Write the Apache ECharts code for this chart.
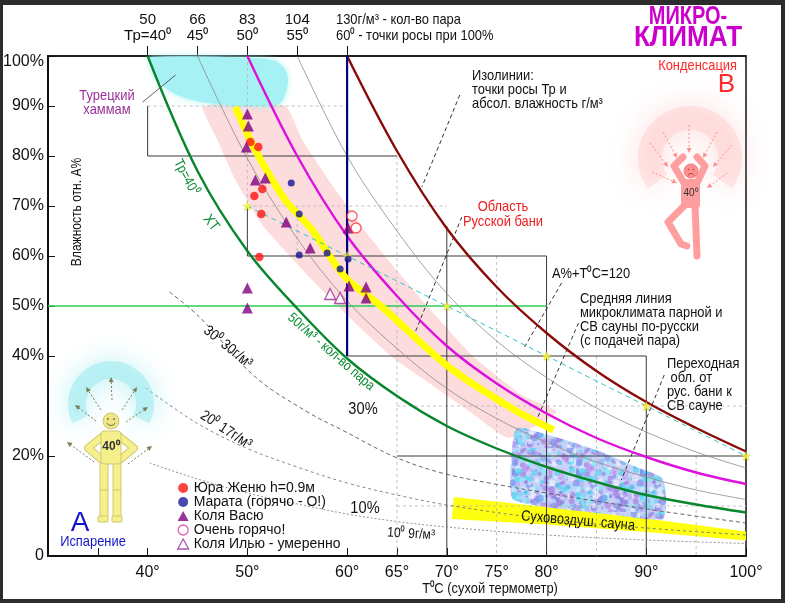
<!DOCTYPE html>
<html><head><meta charset="utf-8">
<script src="https://cdn.jsdelivr.net/npm/echarts@6/dist/echarts.min.js"></script>
<style>html,body{margin:0;padding:0;background:#fff}#c{width:785px;height:603px}</style>
</head><body><div id="c"></div>
<script>
const FONT = "'Liberation Sans Narrow','Arial Narrow','Liberation Sans',Arial,sans-serif";

// ---------- axes ----------
const xLabelValues = [40, 50, 60, 65, 70, 75, 80, 90, 100];
const xTickValues = [35, 40, 50, 60, 65, 70, 80, 90, 100];
const yLabelValues = [0, 20, 40, 50, 60, 70, 80, 90, 100];
const topTickValues = [40, 45, 50, 55, 60];
const topLabelValues = [40, 45, 50, 55];
const topAbsHum = ['50', '66', '83', '104'];
const topDewPt = ['Тр=40⁰', '45⁰', '50⁰', '55⁰'];

// ---------- isolines (T °C, RH %) ----------
const isoTp40 = [[40,100],[45,77],[50,61],[55,49.5],[60,39.5],[65,32],[70,26],[75,21.5],[80,17.8],[85,14.8],[90,12.2],[95,10.3],[100,8.7]];
const isoTp45 = [[45,100],[50,79.5],[55,63.5],[60,51],[65,41.5],[70,33.5],[75,27.5],[80,22.7],[85,18.8],[90,15.8],[95,13.2],[100,11.3]];
const isoTp50 = [[50,100],[55,80],[60,64],[65,52],[70,42],[75,34.5],[80,28.5],[85,23.6],[90,19.8],[95,16.7],[100,14.4]];
const isoTp55 = [[55,100],[60,80],[65,65],[70,52.5],[75,43],[80,35.7],[85,29.6],[90,24.8],[95,20.8],[100,17.6]];
const isoTp60 = [[60,100],[65,81],[70,65.5],[75,53.8],[80,44.6],[85,37],[90,30.8],[95,25.6],[100,20.9]];
const isoTp30 = [[42.2,52.8],[45.2,47.8],[50.8,35.8],[56.2,28.6],[59.5,25.2],[64.8,19.8],[69.5,16.6],[74.8,14.4],[80,12.6],[90,9.4],[100,6.6]];
const isoTp20 = [[39.8,33.6],[45,26.5],[50,21.5],[55,17.8],[60,14.6],[65,12.2],[70,10.2],[80,7.4],[90,5.6],[100,4.2]];
const isoTp10 = [[40.2,18.6],[45,15.4],[50,12.6],[55,10.4],[60,8.4],[65,6.9],[70,5.8],[80,4.2],[90,3.2],[100,2.5]];

const meanLine = [[48.8,89.8],[50.8,81.2],[53.8,71.2],[56.5,65.2],[59.8,55.8],[63.5,49.8],[70.2,37.8],[76.8,29.2],[80.7,25.2]];
const sumLine = [[50,70],[100,20]];              // A% + T°C = 120
const sumStars = [[50,70],[60,60],[70,50],[80,40],[90,30],[100,20]];
const green50 = [[30,50],[80,50]];
const navy60 = [[60,100],[60,40]];

// ---------- regions ----------
const russianBand = [[45.5,89.6],[47,83.2],[48.8,75.2],[51.5,66.2],[56.5,55.2],[60.5,47.2],[64.5,39.8],[67.8,35.2],[72.5,28.6],[76.2,23.6],
  [81,28.8],[77.5,32.2],[72.5,40.2],[67.5,51.2],[62.5,63.2],[58.5,74.2],[55.5,83.2],[53.8,90],[46.5,90.4]];
const hammamBlob = [[40.2,99.8],[50.5,99.6],[53,98.8],[54,96.2],[53.9,93.2],[53.3,90.6],[51.5,90],[46.8,90.4],[43,92.2],[41,95.2],[40.2,98.8]];
const drySaunaBand = [[70.7,11.8],[80,9.8],[90,7.5],[100,4.9],[100,3.1],[90,4.8],[80,6.3],[70.5,7.4]];
const transitionBlob = [[77,25.5],[80,24.3],[85,21.2],[89,17.8],[91.6,15.6],[92,10.5],[91.6,7.3],[86,8.4],[80,9.8],[76.6,11.4],[76.4,18]];

// ---------- straight segments [x1,y1,x2,y2] ----------
const stairSegs = [[40,90,40,80],[40,80,65,80],[50,70,50,60],[50,60,80,60],[60,40,90,40],[65,20,100,20],[70,66,70,0],[80,60,80,0],[90,40,90,0]];
const dashGridSegs = [[40,90,60,90],[50,100,50,70],[50,70,70,70],[55,70,55,60],[65,80,65,0],[75,60,75,0],[85,40,85,0],[95,20,95,0],[65,30,100,30],[65,10,100,10]];
const leaderSegs = [[71.3,92.2,67.5,73.8],[71.5,67.8,66.8,44.6],[81.5,54.6,77.8,41.8],[83.2,46.6,79,27.2],[91.8,36.2,87.5,15.2]];
const hammamLeader = [[39.5,90.8,42.8,96.2]];

// ---------- measurements ----------
const yuraPts = [[50.3,82.8],[51.1,81.8],[50.7,72],[51.5,73.4],[51.4,68.4],[51.2,59.8]];
const marataPts = [[54.4,74.6],[55.2,68.4],[55.2,60.2],[58,60.6],[60.1,59.4],[59.3,57.4]];
const kolyaVasyuPts = [[50,88.4],[50.1,86],[49.9,81.8],[50.8,75.2],[51.8,75.6],[53.9,66.8],[56.3,61.6],[60.1,65.6],[50,53.6],[50,49.6],[60.2,54],[61.9,53.8],[61.9,51.6]];
const veryHotPts = [[60.5,68],[60.9,65.6]];
const kolyaIlyuPts = [[58.3,52.4],[59.3,51.6]];

const legendNames = ['Юра Женю h=0.9м','Марата (горячо - О!)','Коля Васю','Очень горячо!','Коля Илью - умеренно'];

// texture for the transition region (deterministic hash, purely decorative)
function hash(n){ const v = Math.sin(n * 12.9898 + 78.233) * 43758.5453; return v - Math.floor(v); }
function makeTexture(){
  const c = document.createElement('canvas'); c.width = 64; c.height = 64;
  const g = c.getContext('2d');
  g.fillStyle = 'rgba(165,185,245,0.7)'; g.fillRect(0,0,64,64);
  const cols = ['rgba(60,215,240,0.7)','rgba(150,90,215,0.55)','rgba(95,130,235,0.6)','rgba(190,150,240,0.55)','rgba(110,235,245,0.65)','rgba(240,245,255,0.6)','rgba(170,110,225,0.55)'];
  for (let i = 0; i < 260; i++) {
    const x = hash(i * 3 + 1) * 64, y = hash(i * 3 + 2) * 64, r = 1 + hash(i * 3 + 3) * 2.6;
    g.fillStyle = cols[i % 7]; g.beginPath(); g.arc(x, y, r, 0, Math.PI * 2); g.fill();
  }
  return c;
}

function polySeries(pts, style, z, smooth){
  return {type:'custom', coordinateSystem:'cartesian2d', silent:true, z, clip:false, data:[pts[0]],
    renderItem:(params, api) => ({type:'polygon', shape:{points: pts.map(p => api.coord(p)), smooth: smooth || 0}, style})};
}
function segSeries(segs, style, z){
  return {type:'custom', coordinateSystem:'cartesian2d', silent:true, z, clip:false, data:segs, encode:{x:[0,2], y:[1,3]},
    renderItem:(params, api) => {
      const a = api.coord([api.value(0), api.value(1)]), b = api.coord([api.value(2), api.value(3)]);
      return {type:'line', shape:{x1:a[0], y1:a[1], x2:b[0], y2:b[1]}, style:Object.assign({}, style)};
    }};
}
function curve(data, color, width, z, dash, smooth){
  return {type:'line', data, symbol:'none', silent:true, z, smooth: smooth === undefined ? 0.35 : smooth,
    lineStyle:{color, width, type: dash || 'solid'}};
}

// ---------- decorative figures ----------
function arrowEls(x1,y1,x2,y2,color){
  const a = Math.atan2(y2-y1, x2-x1), L = 5, W = 2.4;
  const bx = x2 - L*Math.cos(a), by = y2 - L*Math.sin(a);
  const px = -Math.sin(a)*W, py = Math.cos(a)*W;
  return [{type:'line', z:50, silent:true, shape:{x1, y1, x2:bx, y2:by}, style:{stroke:color, lineWidth:1, lineDash:[2,2]}},
          {type:'polygon', z:50, silent:true, shape:{points:[[x2,y2],[bx+px,by+py],[bx-px,by-py]]}, style:{fill:color}}];
}
function txt(text, x, y, o){
  o = o || {};
  return {type:'text', x, y, z:100, silent:true, rotation:(o.rot||0)*Math.PI/180,
    scaleX: o.sx !== undefined ? o.sx : (o.family ? 1 : 0.86),
    style:{text, fill:o.color||'#111', fontSize:o.size||15, fontFamily:o.family||FONT, fontWeight:o.weight||'normal',
      align:o.align||'left', verticalAlign:o.va||'top', lineHeight:o.lh}};
}
const graphics = [];
// yellow (evaporation) figure
graphics.push({type:'arc', z:40, silent:true, shape:{cx:111, cy:404, r:34, startAngle:Math.PI*0.85, endAngle:Math.PI*2.15, clockwise:true},
  style:{fill:null, stroke:'rgba(130,230,235,0.42)', lineWidth:18, shadowBlur:26, shadowColor:'rgba(100,222,228,1)'}});
[[112,400,111,377],[101,410,86,387],[96,421,75,405],[122,410,137,387],[126,422,148,407],[94,462,67,442],[128,464,152,446]]
  .forEach(a => graphics.push(...arrowEls(a[0],a[1],a[2],a[3],'#7d7d55')));
const YF = '#f6f08c', YS = '#cfc670';
[[[103,436],[88,448],[101,459]],[[119,436],[134,448],[121,459]]].forEach(p => {
  graphics.push({type:'polyline', z:51, silent:true, shape:{points:p}, style:{stroke:YS, lineWidth:8, fill:null, lineCap:'round', lineJoin:'round'}});
  graphics.push({type:'polyline', z:52, silent:true, shape:{points:p}, style:{stroke:YF, lineWidth:6, fill:null, lineCap:'round', lineJoin:'round'}});
});
graphics.push({type:'rect', z:52, silent:true, shape:{x:100, y:462, width:8, height:56, r:2}, style:{fill:YF, stroke:YS}});
graphics.push({type:'rect', z:52, silent:true, shape:{x:113, y:462, width:8, height:56, r:2}, style:{fill:YF, stroke:YS}});
graphics.push({type:'rect', z:52, silent:true, shape:{x:98, y:516, width:10, height:6, r:1}, style:{fill:YF, stroke:YS}});
graphics.push({type:'rect', z:52, silent:true, shape:{x:112, y:516, width:10, height:6, r:1}, style:{fill:YF, stroke:YS}});
graphics.push({type:'line', z:53, silent:true, shape:{x1:100, y1:490, x2:108, y2:490}, style:{stroke:YS}});
graphics.push({type:'line', z:53, silent:true, shape:{x1:113, y1:490, x2:121, y2:490}, style:{stroke:YS}});
graphics.push({type:'rect', z:53, silent:true, shape:{x:101, y:431, width:20, height:33, r:3}, style:{fill:YF, stroke:YS}});
graphics.push({type:'circle', z:53, silent:true, shape:{cx:111, cy:421, r:8}, style:{fill:'#ece58a', stroke:YS}});
graphics.push({type:'circle', z:54, silent:true, shape:{cx:108, cy:419, r:0.9}, style:{fill:'#6e6a3c'}});
graphics.push({type:'circle', z:54, silent:true, shape:{cx:114, cy:419, r:0.9}, style:{fill:'#6e6a3c'}});
graphics.push({type:'arc', z:54, silent:true, shape:{cx:111, cy:421, r:4.5, startAngle:Math.PI*0.15, endAngle:Math.PI*0.85, clockwise:true}, style:{stroke:'#6e6a3c', fill:null, lineWidth:1}});
graphics.push(txt('40⁰', 111, 447, {size:12, weight:'bold', align:'center', va:'middle', color:'#333', family:'Liberation Sans, sans-serif'}));

// pink (condensation) figure
graphics.push({type:'arc', z:40, silent:true, shape:{cx:690, cy:158, r:40, startAngle:Math.PI*0.8, endAngle:Math.PI*2.2, clockwise:true},
  style:{fill:null, stroke:'rgba(255,185,185,0.3)', lineWidth:24, shadowBlur:30, shadowColor:'rgba(255,150,150,1)'}});
[[650,143,668,167],[663,132,677,158],[689,125,689,153],[717,132,703,158],[732,145,713,167],[652,172,677,183],[727,173,707,188]]
  .forEach(a => graphics.push(...arrowEls(a[0],a[1],a[2],a[3],'#ff8f8f')));
const PF = '#ff9e9e';
[[[684,183],[674,166],[683,157]],[[697,183],[705,166],[697,157]],[[685,205],[668,222],[681,244],[687,246]],[[695,205],[697,256]]].forEach(p => {
  graphics.push({type:'polyline', z:52, silent:true, shape:{points:p}, style:{stroke:PF, lineWidth:7, fill:null, lineCap:'round', lineJoin:'round'}});
});
graphics.push({type:'rect', z:53, silent:true, shape:{x:681, y:179, width:19, height:29, r:3}, style:{fill:PF}});
graphics.push({type:'circle', z:53, silent:true, shape:{cx:691, cy:171, r:7}, style:{fill:'#ff9090', stroke:'#f07a7a'}});
graphics.push({type:'circle', z:54, silent:true, shape:{cx:688.5, cy:169.5, r:0.8}, style:{fill:'#b04040'}});
graphics.push({type:'circle', z:54, silent:true, shape:{cx:693.5, cy:169.5, r:0.8}, style:{fill:'#b04040'}});
graphics.push({type:'arc', z:54, silent:true, shape:{cx:691, cy:177, r:3.5, startAngle:Math.PI*1.15, endAngle:Math.PI*1.85, clockwise:true}, style:{stroke:'#b04040', fill:null, lineWidth:1}});
graphics.push(txt('40⁰', 691, 193, {size:10, align:'center', va:'middle', color:'#333', family:'Liberation Sans, sans-serif'}));

// texts
graphics.push(
  txt('130г/м³ - кол-во пара\n60⁰ - точки росы при 100%', 336, 12, {size:15, lh:16}),
  txt('МИКРО-', 688, 17, {size:25, weight:'bold', color:'#cc00cc', align:'center', va:'middle', sx:0.8}),
  txt('КЛИМАТ', 688, 38, {size:29, weight:'bold', color:'#cc00cc', align:'center', va:'middle', sx:0.9}),
  txt('Конденсация', 737, 66, {size:15, color:'#ff2a2a', align:'right', va:'middle'}),
  txt('B', 735, 85, {size:26, color:'#ff2a2a', align:'right', va:'middle', family:'Liberation Sans, sans-serif'}),
  txt('A', 80, 523, {size:28, color:'#1414c8', align:'center', va:'middle', family:'Liberation Sans, sans-serif'}),
  txt('Испарение', 93, 542, {size:15, color:'#1414c8', align:'center', va:'middle'}),
  txt('Турецкий\nхаммам', 107, 89, {size:15, lh:14, color:'#993399', align:'center'}),
  txt('Влажность отн. А%', 77, 212, {size:14, align:'center', va:'middle', rot:90}),
  txt('Изолинии:\nточки росы Тр и\nабсол. влажность г/м³', 472, 69, {size:15, lh:14}),
  txt('Область\nРусской бани', 503, 200, {size:15, lh:14.5, color:'#ee1c1c', align:'center'}),
  txt('A%+T⁰C=120', 552, 266, {size:15}),
  txt('Средняя линия\nмикроклимата парной и\nСВ сауны по-русски\n(с подачей пара)', 580, 292, {size:15, lh:14}),
  txt('Переходная\n обл. от\nрус. бани к\nСВ сауне', 667, 357, {size:15, lh:14}),
  txt('30%', 363, 409, {size:17, align:'center', va:'middle'}),
  txt('10%', 365, 508, {size:17, align:'center', va:'middle'}),
  txt('Тр=40⁰', 186, 177, {size:14, color:'#0a8a30', align:'center', va:'middle', rot:-62}),
  txt('ХТ', 211, 223, {size:15, color:'#0a8a30', align:'center', va:'middle', rot:-52}),
  txt('50г/м³ - кол-во пара', 331, 352, {size:14, color:'#0a8a30', align:'center', va:'middle', rot:-41}),
  txt('30⁰ 30г/м³', 228, 347, {size:15, align:'center', va:'middle', rot:-39}),
  txt('20⁰ 17г/м³', 226, 430, {size:15, align:'center', va:'middle', rot:-33}),
  txt('10⁰ 9г/м³', 411, 534, {size:14, align:'center', va:'middle', rot:-3}),
  txt('Суховоздуш. сауна', 578, 521, {size:15, align:'center', va:'middle', rot:-5}),
  txt('T⁰C (сухой термометр)', 490, 589, {size:15, align:'center', va:'middle'})
);
// dark outer frame
[[0,0,785,5],[0,0,3,603],[781,0,4,603],[0,599,785,4]].forEach(r =>
  graphics.push({type:'rect', z:200, silent:true, shape:{x:r[0], y:r[1], width:r[2], height:r[3]}, style:{fill:'#2c2c2c'}}));

const starPath = 'path://M50,0 L61,35 L98,35 L68,57 L79,91 L50,70 L21,91 L32,57 L2,35 L39,35 Z';

const option = {
  backgroundColor:'#fff',
  animation:false,
  grid:{left:45, right:39, top:56, bottom:47, show:true, borderColor:'#111', borderWidth:1.5, backgroundColor:'transparent'},
  xAxis:[
    {type:'value', min:30, max:100, interval:5, position:'bottom',
     axisLine:{lineStyle:{color:'#111', width:2}},
     axisTick:{show:true, inside:true, length:8, customValues:xTickValues, lineStyle:{color:'#111'}},
     axisLabel:{customValues:xLabelValues, formatter:'{value}°', margin:9, fontSize:16, color:'#111', fontFamily:FONT},
     splitLine:{show:false}},
    {type:'value', min:30, max:100, interval:5, position:'top',
     axisLine:{show:true, lineStyle:{color:'#111', width:1.5}},
     axisTick:{show:true, inside:false, length:10, customValues:topTickValues, lineStyle:{color:'#111'}},
     axisLabel:{customValues:topLabelValues, margin:12, fontSize:15, lineHeight:16, color:'#111', fontFamily:FONT,
       formatter:v => { const i = topLabelValues.indexOf(v); return i < 0 ? '' : topAbsHum[i] + '\n' + topDewPt[i]; }},
     splitLine:{show:false}}
  ],
  yAxis:{type:'value', min:0, max:100, interval:10,
    axisLine:{show:true, lineStyle:{color:'#111', width:2}},
    axisTick:{show:true, inside:true, length:7, customValues:yLabelValues, lineStyle:{color:'#111'}},
    axisLabel:{customValues:yLabelValues, margin:4, fontSize:16, color:'#111', fontFamily:FONT,
      formatter:v => v === 100 ? '{t|100%}' : (v === 0 ? '0' : v + '%'),
      rich:{t:{fontSize:16, fontFamily:FONT, color:'#111', padding:[12,0,0,0]}}},
    splitLine:{show:false}},
  legend:{
    orient:'vertical', left:172, top:476, itemWidth:11, itemHeight:10, itemGap:0,
    textStyle:{fontSize:14, lineHeight:13.5, color:'#111', fontFamily:FONT},
    data:[
      {name:legendNames[0], icon:'circle'},
      {name:legendNames[1], icon:'circle', itemStyle:{color:'#1a1a9a'}},
      {name:legendNames[2], icon:'triangle'},
      {name:legendNames[3], icon:'circle', itemStyle:{color:'#fff', borderColor:'#d43c9c', borderWidth:1.3}},
      {name:legendNames[4], icon:'triangle', itemStyle:{color:'#fff', borderColor:'#9a2a9a', borderWidth:1.3}}
    ]
  },
  graphic:graphics,
  series:[
    polySeries(russianBand, {fill:'#fcdcdc'}, 1, 0.15),
    polySeries(hammamBlob, {fill:'#a6f1f3', shadowBlur:6, shadowColor:'#a6f1f3'}, 1, 0.35),
    polySeries(drySaunaBand, {fill:'#ffff10'}, 1, 0),
    polySeries(transitionBlob, {fill:{image:makeTexture(), repeat:'repeat'}, opacity:0.9}, 1, 0.2),
    segSeries(dashGridSegs, {stroke:'#b4b4b4', lineWidth:0.8, lineDash:[3,3]}, 2),
    segSeries(stairSegs, {stroke:'#3a3a3a', lineWidth:1}, 3),
    segSeries(leaderSegs, {stroke:'#333', lineWidth:1, lineDash:[4,3]}, 3),
    segSeries(hammamLeader, {stroke:'#333', lineWidth:0.8}, 3),
    curve(isoTp30, '#555', 0.9, 3, [4,3]),
    curve(isoTp20, '#777', 0.9, 3, [3,3]),
    curve(isoTp10, '#888', 0.9, 3, [2,2]),
    curve(isoTp45, '#8a8a8a', 0.8, 4),
    curve(isoTp55, '#8a8a8a', 0.8, 4),
    curve(green50, '#2bcc5a', 1.6, 5, 'solid', false),
    curve(isoTp40, '#08862c', 2.4, 6),
    curve(isoTp50, '#dd11dd', 2.4, 6),
    curve(isoTp60, '#8a0a0a', 2.4, 6),
    curve(navy60, '#000080', 2.2, 6, 'solid', false),
    curve(meanLine, '#ffff00', 7, 7, 'solid', 0.3),
    curve(sumLine, '#33c4cc', 1, 8, [5,4], false),
    {type:'scatter', data:sumStars, symbol:starPath, symbolSize:9, silent:true, z:9, clip:false,
     itemStyle:{color:'#ffff30', borderColor:'#d8c000', borderWidth:0.5}},
    {type:'scatter', name:legendNames[0], data:yuraPts, symbol:'circle', symbolSize:8.5, z:10, clip:false, itemStyle:{color:'#ff1414'}},
    {type:'scatter', name:legendNames[1], data:marataPts, symbol:'circle', symbolSize:7, z:10, clip:false, itemStyle:{color:'#14149a'}},
    {type:'scatter', name:legendNames[2], data:kolyaVasyuPts, symbol:'triangle', symbolSize:11, z:10, clip:false, itemStyle:{color:'#800080'}},
    {type:'scatter', name:legendNames[3], data:veryHotPts, symbol:'circle', symbolSize:10, z:10, clip:false, itemStyle:{color:'#fff', borderColor:'#ff3333', borderWidth:1.3}},
    {type:'scatter', name:legendNames[4], data:kolyaIlyuPts, symbol:'triangle', symbolSize:11, z:10, clip:false, itemStyle:{color:'#fff', borderColor:'#9a2a9a', borderWidth:1.3}}
  ]
};
const chart = echarts.init(document.getElementById('c'));
chart.setOption(option);
</script>
</body></html>
